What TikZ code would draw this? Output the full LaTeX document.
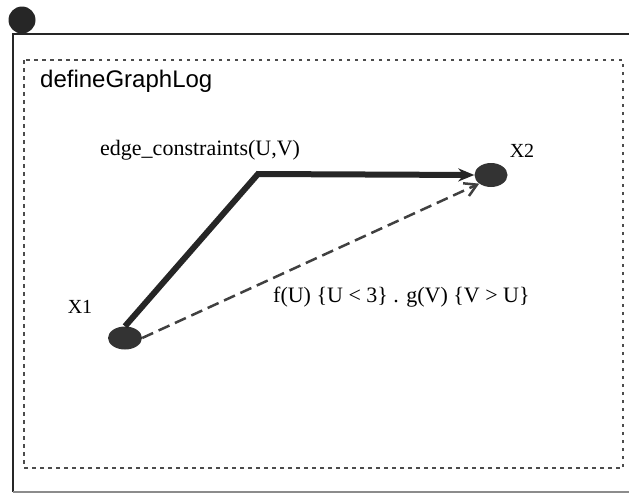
\documentclass[tikz,border=0pt]{standalone}
\usepackage{fontspec}
\setmainfont{Liberation Serif}
\newfontfamily\labelsans{Liberation Sans}
\usetikzlibrary{arrows.meta,shapes.geometric}
\tikzset{
  vertex/.style={ellipse, fill=black!80, minimum width=34pt, minimum height=23pt, inner sep=0pt},
  vlabel/.style={font=\fontsize{20}{22}\selectfont, inner sep=0pt, anchor=base},
  elabel/.style={font=\fontsize{22}{24}\selectfont, inner sep=0pt, anchor=base west},
  frameline/.style={line width=2.6pt, black!85},
  innerbox/.style={line width=2.6pt, black!70, dash pattern=on 3.5pt off 4.5pt},
  solidedge/.style={line width=6pt, black!85, -{Stealth[length=16pt,width=13pt]}},
  dashedge/.style={line width=2.5pt, black!75, dash pattern=on 12pt off 6pt, -{Straight Barb[length=12pt,width=14pt]}}
}
\begin{document}
\begin{tikzpicture}[x=1pt,y=-1pt]
\useasboundingbox (0,0) rectangle (629,493);
% outer frame
\coordinate (ftl) at (13,34);
\coordinate (ftr) at (629,34);
\coordinate (fbl) at (13,492);
\coordinate (fbr) at (629,492);
\draw[frameline] (ftr) -- (ftl) -- (fbl);
\draw[line width=1.5pt, black!45] (fbl) -- (fbr);
\node[circle, fill=black!85, minimum size=27pt, inner sep=0pt] (corner) at (22,20) {};
% inner dotted box
\draw[innerbox] (24,60) rectangle (623,468);
\node[anchor=base west, font=\labelsans\fontsize{24}{26}\selectfont, inner sep=0pt] (title) at (40,87) {defineGraphLog};
% vertices
\node[vertex] (x1) at (125,338) {};
\node[vertex, minimum width=33pt, minimum height=24pt] (x2) at (491,175) {};
\node[vlabel] (l1) at (80,313) {X1};
\node[vlabel] (l2) at (522,157) {X2};
% edges
\coordinate (bend) at (258,174);
\draw[solidedge] (x1.north) -- (bend) -- (x2.west);
\draw[dashedge] (x1.east) -- (x2.south west);
\node[elabel] (e1) at (100,155) {edge\_constraints(U,V)};
\node[elabel] (e2) at (273,302) {f(U) \{U < 3\} . g(V) \{V > U\}};
\end{tikzpicture}
\end{document}
